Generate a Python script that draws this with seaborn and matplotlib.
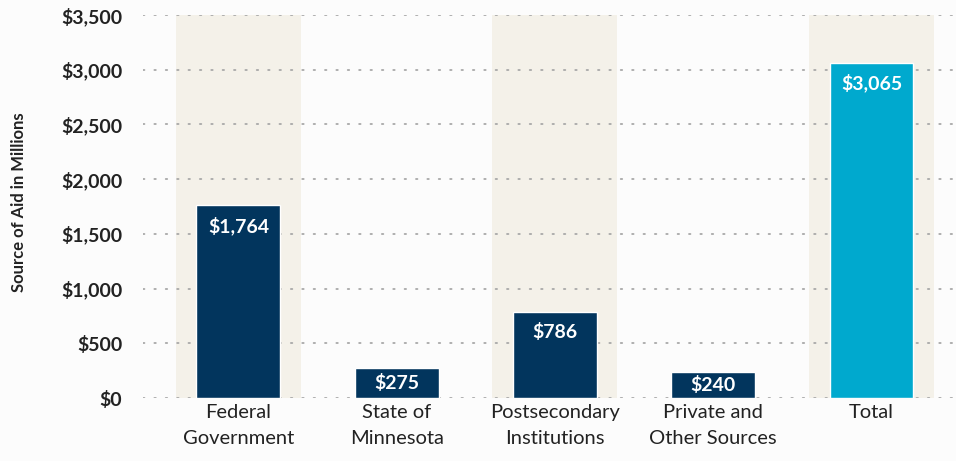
import matplotlib
matplotlib.use("Agg")
import matplotlib.pyplot as plt
import seaborn as sns
import pandas as pd

categories = ["Federal\nGovernment", "State of\nMinnesota", "Postsecondary\nInstitutions",
              "Private and\nOther Sources", "Total"]
aid_millions = [1764, 275, 786, 240, 3065]
value_labels = ["$1,764", "$275", "$786", "$240", "$3,065"]
y_ticks = [0, 500, 1000, 1500, 2000, 2500, 3000, 3500]
shaded = [0, 2, 4]

navy = "#02355d"
teal = "#00a9ce"
band = "#f4f1e9"
bg = "#fcfcfc"
ink = "#222222"

df = pd.DataFrame({"source": categories, "aid": aid_millions})

sns.set_theme(style="white")
plt.rcParams["font.family"] = ["Lato", "DejaVu Sans"]

fig = plt.figure(figsize=(9.56, 4.61), dpi=100, facecolor=bg)
ax = fig.add_axes([143 / 956, (461 - 398) / 461, 1 - 143 / 956, (398 - 15) / 461])
ax.set_facecolor(bg)

# beige background bands behind every other column
for i in shaded:
    ax.axvspan(i - 0.395, i + 0.395, color=band, zorder=0, lw=0)

# dotted gridlines
for t in y_ticks:
    ax.axhline(t, color="#a8a8a8", lw=1.3, ls=(0, (0.8, 5.5)), dash_capstyle="round", zorder=1)

palette = [navy, navy, navy, navy, teal]
sns.barplot(data=df, x="source", y="aid", hue="source", palette=palette,
            width=0.53, legend=False, ax=ax, zorder=2, saturation=1)

for i, (v, lab) in enumerate(zip(aid_millions, value_labels)):
    if v < 400:
        # short bars: label centred inside
        ax.text(i, v / 2, lab, ha="center", va="center", color="white",
                fontsize=14, fontweight="bold", zorder=3)
    else:
        ax.annotate(lab, (i, v), xytext=(0, -8), textcoords="offset points",
                    ha="center", va="top", color="white", fontsize=14,
                    fontweight="bold", zorder=3)

ax.set_xlim(-0.603, 4.534)
ax.set_ylim(0, 3500)
ax.set_yticks(y_ticks)
ax.set_yticklabels([f"${t:,}" for t in y_ticks], fontsize=14, fontweight="bold", color=ink)
ax.set_xticks(range(len(categories)))
ax.set_xticklabels(categories, fontsize=14.5, color=ink, linespacing=1.7)
ax.tick_params(axis="y", length=0, pad=15)
ax.tick_params(axis="x", length=0, pad=4)
ax.set_xlabel("")
ax.set_ylabel("Source of Aid in Millions", fontsize=12, fontweight="bold", color=ink)
ax.yaxis.set_label_coords(-0.143, 0.51)
sns.despine(ax=ax, left=True, bottom=True)

fig.savefig("out.png", dpi=100, facecolor=bg)
